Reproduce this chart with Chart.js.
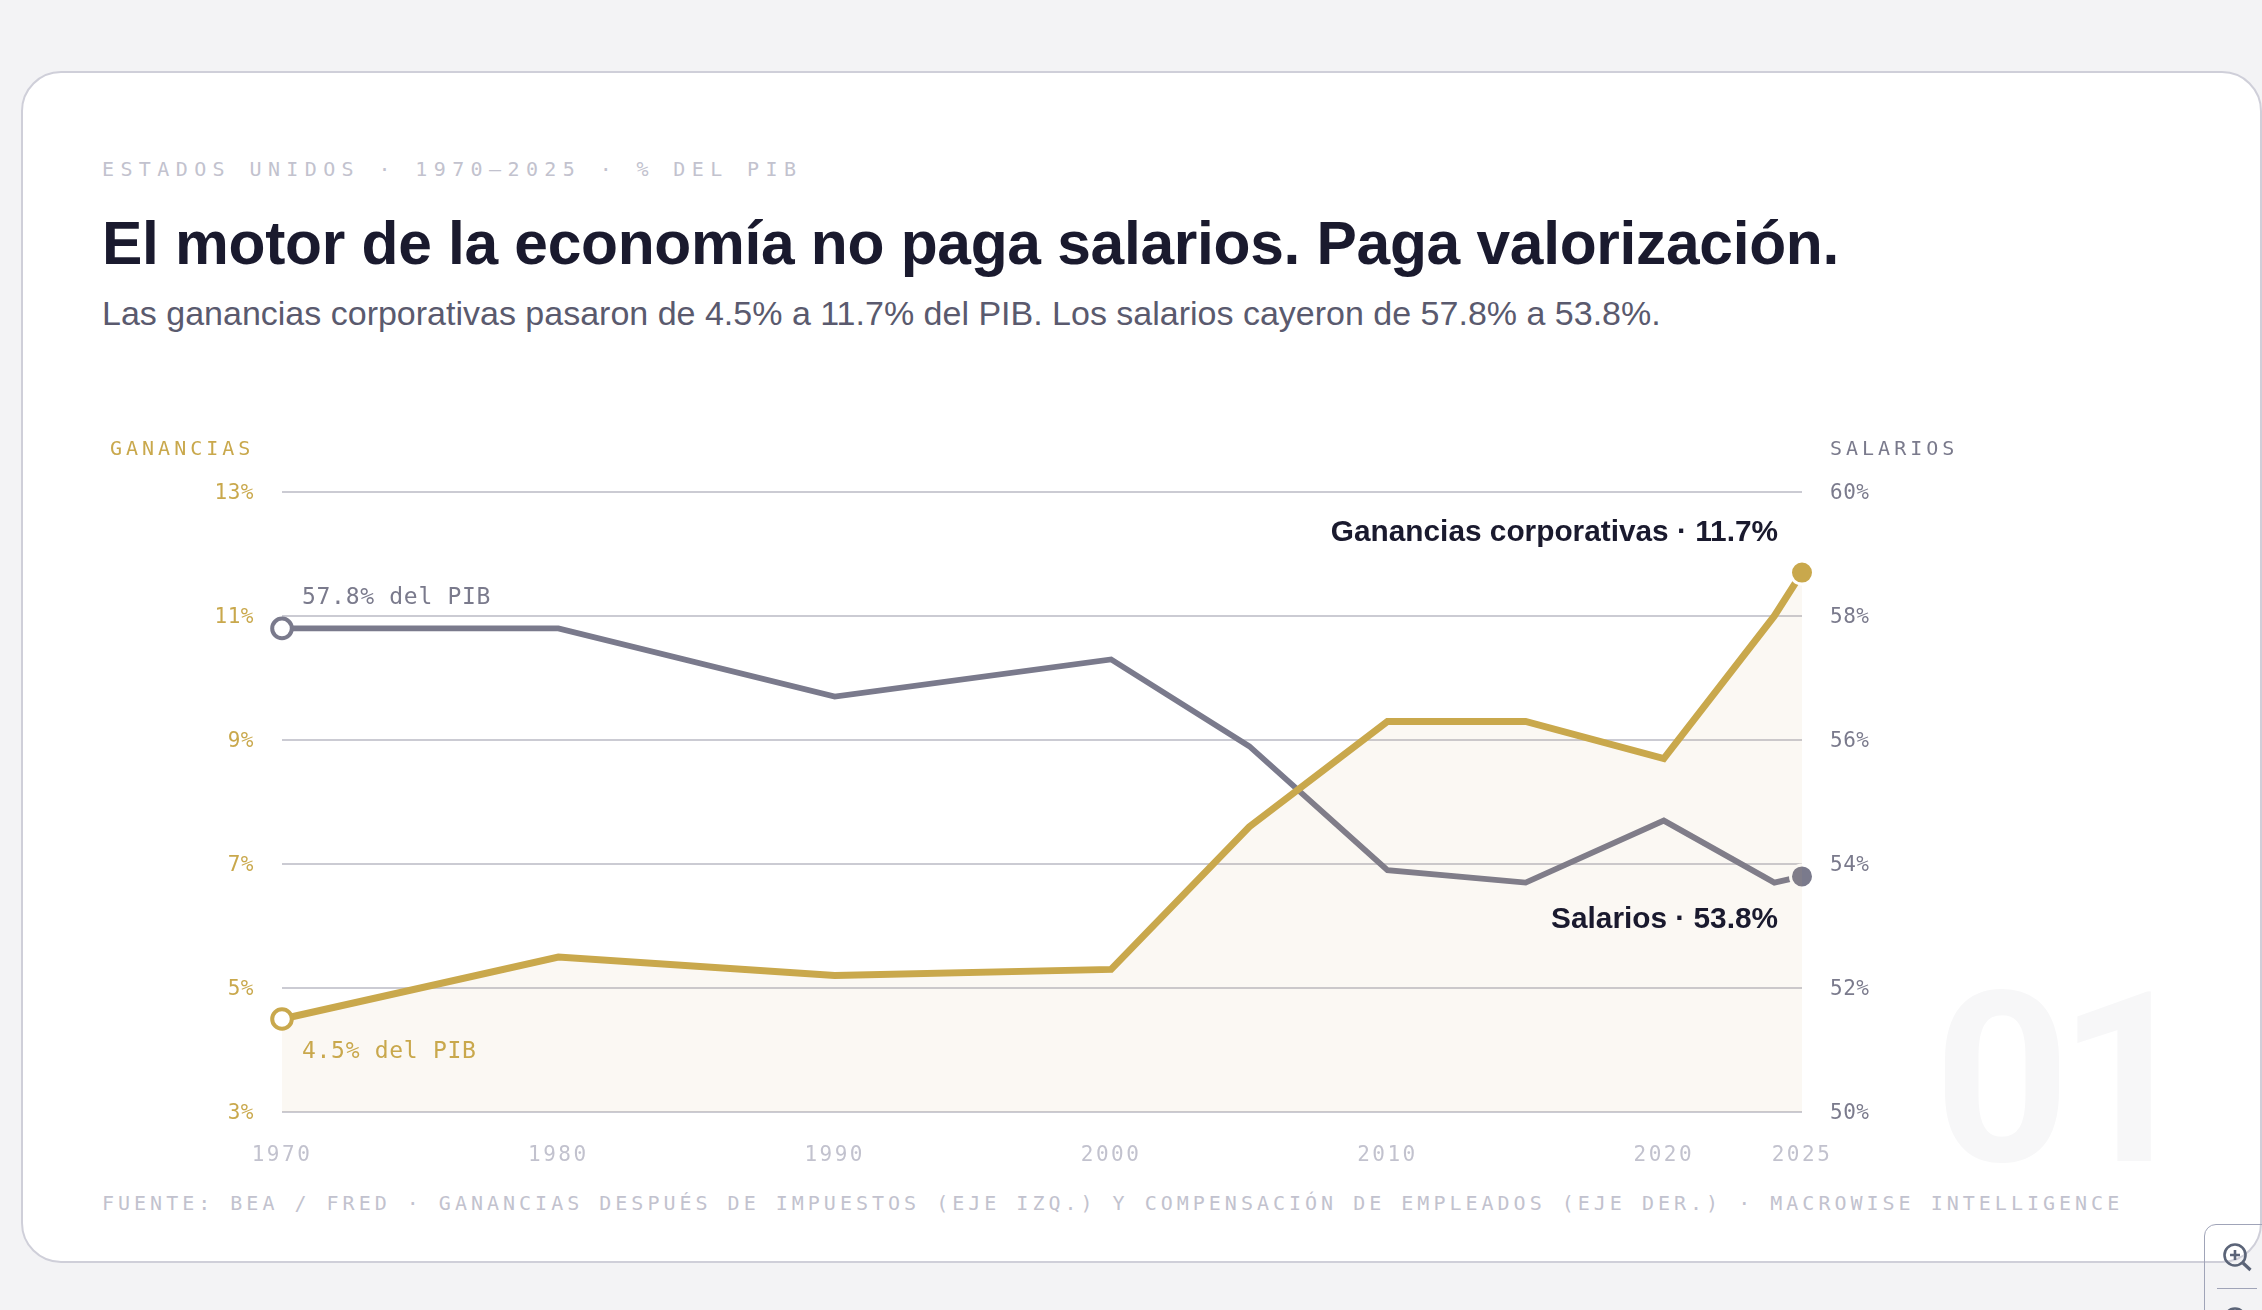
<!DOCTYPE html>
<html>
<head>
<meta charset="utf-8">
<script src="https://cdn.jsdelivr.net/npm/chart.js@4"></script>
<style>
  html, body { margin: 0; width: 2262px; height: 1310px; overflow: hidden; background: #f3f3f5; }
  .card { position: absolute; left: 21px; top: 71px; width: 2241px; height: 1192px; box-sizing: border-box;
    background: #fff; border: 2px solid #cfcfd9; border-radius: 40px; }
  .txt { position: absolute; white-space: nowrap; }
  .mono { font-family: "DejaVu Sans Mono", monospace; }
  .sans { font-family: "Liberation Sans", Arial, sans-serif; }
  #eyebrow { left: 102px; top: 157px; font-size: 20px; line-height: 24px; letter-spacing: 6.39px; color: #c2c2ce; }
  #title { left: 102px; top: 206px; font-size: 60.5px; line-height: 74px; font-weight: 700; letter-spacing: -0.3px; color: #1a1a2e; }
  #sub { left: 102px; top: 293px; font-size: 34px; line-height: 40px; color: #5a5a6e; }
  #footer { left: 102px; top: 1191px; font-size: 20px; line-height: 24px; letter-spacing: 4px; color: #c2c2ce; }
  #ghost { left: 1934px; top: 945px; font-size: 237px; line-height: 270px; font-family: Roboto, sans-serif; font-weight: 700; color: #f7f7f8; letter-spacing: -12px; }
  #myChart { position: absolute; left: 0; top: 0; }
  .widget { position: absolute; left: 2204px; top: 1224px; width: 62px; height: 90px; box-sizing: border-box;
    border: 1.5px solid #a0a4b8; border-radius: 12px 0 0 0; }
  .widget hr { position: absolute; left: 12px; width: 40px; top: 63px; margin: 0; border: 0; border-top: 1.5px solid #a0a4b8; }
  .widget svg { position: absolute; left: 17px; top: 17px; overflow: visible; }
</style>
</head>
<body>
<div class="card"></div>
<div class="txt" id="ghost">01</div>
<div class="txt mono" id="eyebrow">ESTADOS UNIDOS · 1970–2025 · % DEL PIB</div>
<div class="txt sans" id="title">El motor de la economía no paga salarios. Paga valorización.</div>
<div class="txt sans" id="sub">Las ganancias corporativas pasaron de 4.5% a 11.7% del PIB. Los salarios cayeron de 57.8% a 53.8%.</div>
<div class="txt mono" id="footer">FUENTE: BEA / FRED · GANANCIAS DESPUÉS DE IMPUESTOS (EJE IZQ.) Y COMPENSACIÓN DE EMPLEADOS (EJE DER.) · MACROWISE INTELLIGENCE</div>
<canvas id="myChart" width="2262" height="1310"></canvas>
<div class="widget">
  <svg width="32" height="32" viewBox="0 0 32 32" fill="none" stroke="#5b6478" stroke-width="2.6">
    <circle cx="13" cy="13" r="10.5"/><path d="M13 8v10M8 13h10"/><path d="M21 21l7.5 7" stroke-width="3.2"/>
    <circle cx="13" cy="77" r="10.5"/>
  </svg>
  <hr>
</div>
<script>
var years = [1970, 1980, 1990, 2000, 2005, 2010, 2015, 2020, 2024, 2025];
var ganancias = [4.5, 5.5, 5.2, 5.3, 7.6, 9.3, 9.3, 8.7, 11.0, 11.7];
var salarios = [57.8, 57.8, 56.7, 57.3, 55.9, 53.9, 53.7, 54.7, 53.7, 53.8];
var tickYears = [1970, 1980, 1990, 2000, 2010, 2020, 2025];

var GOLD = '#c9a84c';
var GRAY = '#7a7a8c';
var MONO = '"DejaVu Sans Mono", monospace';
var SANS = '"Liberation Sans", Arial, sans-serif';

function toPoints(values) {
  return values.map(function (v, i) { return { x: years[i], y: v }; });
}

// radius and fill differ only for the first and last point of each line
function endRadius(ctx) {
  if (ctx.dataIndex === 0) return 9.8;
  return ctx.dataIndex === years.length - 1 ? 11.5 : 0;
}
function endFill(color) {
  return function (ctx) { return ctx.dataIndex === 0 ? '#fff' : color; };
}
function endBorder(color) {
  return function (ctx) { return ctx.dataIndex === 0 ? color : '#fff'; };
}
function endWidth(ctx) {
  return ctx.dataIndex === 0 ? 4 : 3;
}

function label(ctx, text, x, y, font, color, align, spacing) {
  ctx.save();
  ctx.font = font;
  ctx.fillStyle = color;
  ctx.textAlign = align;
  ctx.textBaseline = 'middle';
  ctx.letterSpacing = spacing || '0px';
  ctx.fillText(text, x, y);
  ctx.restore();
}

var annotations = {
  id: 'annotations',
  afterDraw: function (chart) {
    var ctx = chart.ctx, x = chart.scales.x, l = chart.scales.y, r = chart.scales.y1;
    var last = years.length - 1;
    label(ctx, 'GANANCIAS', 110, 450, '20px ' + MONO, GOLD, 'left', '4px');
    label(ctx, 'SALARIOS', 1830, 450, '20px ' + MONO, GRAY, 'left', '4px');
    label(ctx, salarios[0] + '% del PIB', x.getPixelForValue(years[0]) + 20, r.getPixelForValue(salarios[0]) - 30, '23px ' + MONO, GRAY, 'left', '0.7px');
    label(ctx, ganancias[0] + '% del PIB', x.getPixelForValue(years[0]) + 20, l.getPixelForValue(ganancias[0]) + 33.5, '23px ' + MONO, GOLD, 'left', '0.7px');
    label(ctx, 'Ganancias corporativas · ' + ganancias[last] + '%', x.getPixelForValue(years[last]) - 24, l.getPixelForValue(ganancias[last]) - 40, 'bold 29.8px ' + SANS, '#1a1a2e', 'right');
    label(ctx, 'Salarios · ' + salarios[last] + '%', x.getPixelForValue(years[last]) - 24, r.getPixelForValue(salarios[last]) + 43, 'bold 29.8px ' + SANS, '#1a1a2e', 'right');
  }
};

// Chart.js has no letter spacing option for ticks, and y labels sit a bit low in the original
var tickSpacing = {
  id: 'tickSpacing',
  beforeDraw: function (chart) {
    var spacing = { x: '2.5px', y: '0.5px', y1: '0.5px' };
    Object.keys(spacing).forEach(function (id) {
      var scale = chart.scales[id];
      if (scale.spaced) return;
      var draw = scale.drawLabels;
      scale.drawLabels = function (area) {
        chart.ctx.save();
        chart.ctx.letterSpacing = spacing[id];
        if (id !== 'x') chart.ctx.translate(0, 2);
        draw.call(scale, area);
        chart.ctx.restore();
      };
      scale.spaced = true;
    });
  }
};

new Chart(document.getElementById('myChart').getContext('2d'), {
  type: 'line',
  data: {
    datasets: [{
      label: 'Ganancias',
      data: toPoints(ganancias),
      yAxisID: 'y',
      order: 1,
      borderColor: GOLD,
      borderWidth: 7,
      backgroundColor: 'rgba(200, 160, 100, 0.08)',
      fill: 'start',
      clip: false,
      tension: 0,
      pointRadius: endRadius,
      pointBackgroundColor: endFill(GOLD),
      pointBorderColor: endBorder(GOLD),
      pointBorderWidth: endWidth
    }, {
      label: 'Salarios',
      data: toPoints(salarios),
      yAxisID: 'y1',
      order: 2,
      borderColor: GRAY,
      borderWidth: 5.8,
      fill: false,
      clip: false,
      tension: 0,
      pointRadius: endRadius,
      pointBackgroundColor: endFill(GRAY),
      pointBorderColor: endBorder(GRAY),
      pointBorderWidth: endWidth
    }]
  },
  options: {
    responsive: false,
    animation: false,
    layout: { autoPadding: false, padding: { left: 0, right: 0, top: 492, bottom: 0 } },
    plugins: { legend: { display: false }, tooltip: { enabled: false } },
    scales: {
      x: {
        type: 'linear',
        min: 1970,
        max: 2025,
        grid: { display: false },
        border: { display: false },
        afterBuildTicks: function (scale) {
          scale.ticks = tickYears.map(function (v) { return { value: v }; });
        },
        afterFit: function (scale) { scale.height = 198; },
        ticks: {
          autoSkip: false,
          maxRotation: 0,
          padding: 23,
          color: '#c2c2ce',
          font: { family: MONO, size: 21 },
          callback: function (v) { return String(v); }
        }
      },
      y: {
        position: 'left',
        min: 3,
        max: 13,
        afterFit: function (scale) { scale.width = 282; },
        grid: { color: '#cbcbd3', lineWidth: 2, drawTicks: false },
        border: { display: false },
        ticks: {
          stepSize: 2,
          padding: 28,
          color: GOLD,
          font: { family: MONO, size: 21 },
          callback: function (v) { return v + '%'; }
        }
      },
      y1: {
        position: 'right',
        min: 50,
        max: 60,
        afterFit: function (scale) { scale.width = 460; },
        grid: { display: false, drawTicks: false },
        border: { display: false },
        ticks: {
          stepSize: 2,
          padding: 28,
          color: GRAY,
          font: { family: MONO, size: 21 },
          callback: function (v) { return v + '%'; }
        }
      }
    }
  },
  plugins: [annotations, tickSpacing]
});
</script>
</body>
</html>
